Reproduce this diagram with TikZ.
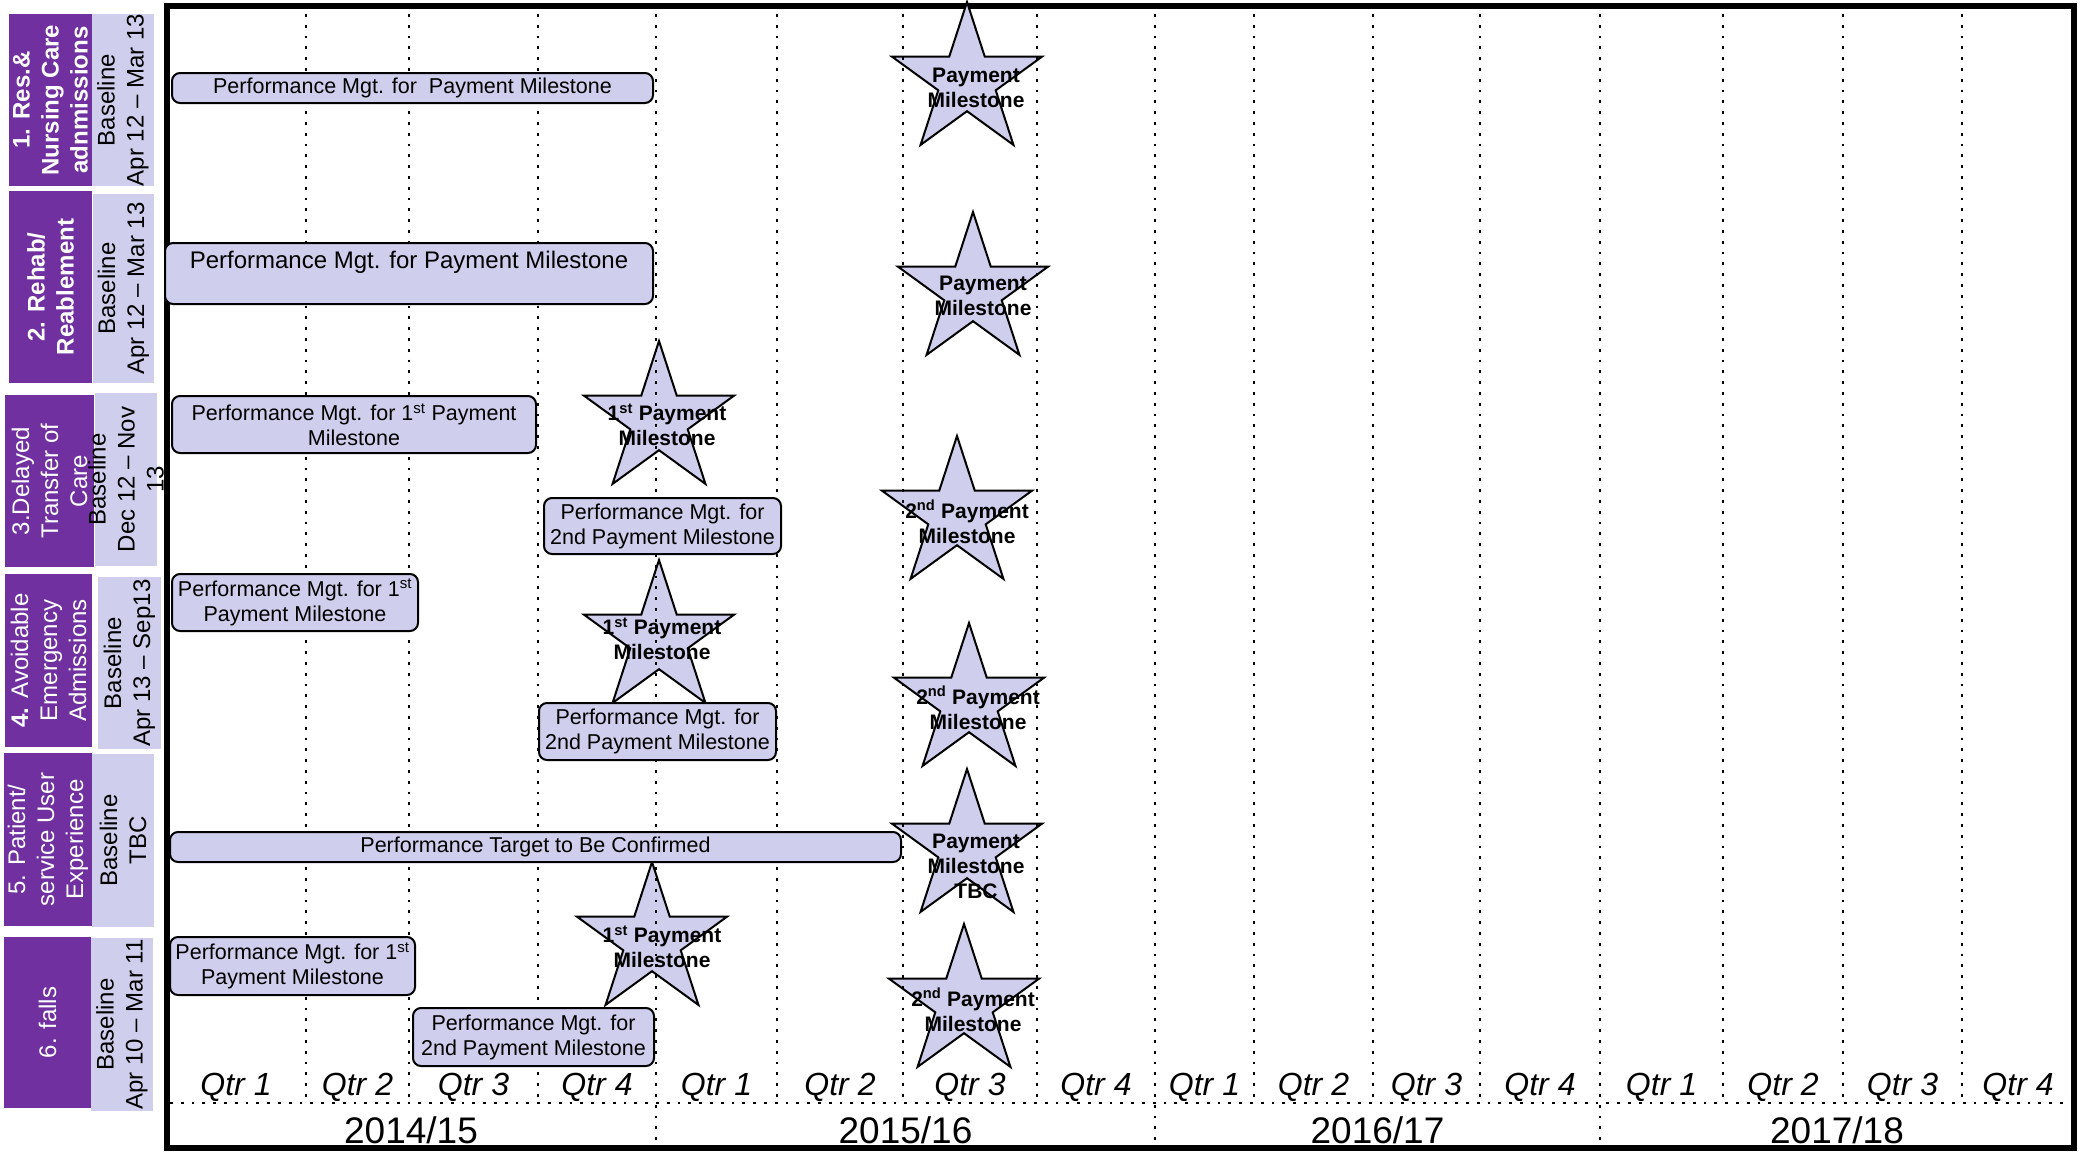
\documentclass[tikz,border=0pt]{standalone}
\usepackage{fontspec}
\setmainfont{Liberation Sans}
\usetikzlibrary{shapes.geometric}
\definecolor{plum}{RGB}{112,48,160}
\definecolor{lav}{RGB}{207,207,237}
\begin{document}
\begin{tikzpicture}[x=1pt,y=-1pt,
 frame/.style={draw=black, line width=6pt},
 dotv/.style={line width=2.8pt, dash pattern=on 2.8pt off 8pt},
 bar/.style={draw=black, line width=2pt, fill=lav, rounded corners=8pt, inner sep=0pt, align=center, font=\fontsize{21.5}{25}\selectfont},
 mstar/.style={star, star points=5, star point ratio=2.618, minimum size=158pt, inner sep=0pt, draw=black, line width=2pt, fill=lav},
 stext/.style={inner sep=0pt, align=center, font=\bfseries\fontsize{21}{25}\selectfont},
 pbox/.style={fill=plum, inner sep=0pt},
 lbox/.style={fill=lav, inner sep=0pt},
 ptext/.style={rotate=90, text=white, align=center, inner sep=0pt, font=\fontsize{24}{29}\selectfont},
 ltext/.style={rotate=90, align=center, inner sep=0pt, font=\fontsize{24}{29}\selectfont},
 qtext/.style={anchor=base, inner sep=0pt, font=\itshape\fontsize{32}{32}\selectfont},
 ytext/.style={anchor=base, inner sep=0pt, font=\fontsize{37}{37}\selectfont}]

\useasboundingbox (0,0) rectangle (2085,1151);

% frame
\draw[frame] (167,5.5) rectangle (2074,1148);

% stars
\node[mstar] (s1) at (967,81) {};
\node[mstar] (s2) at (973,291) {};
\node[mstar] (s3) at (659,420) {};
\node[mstar] (s4) at (957,515) {};
\node[mstar] (s5) at (659,639) {};
\node[mstar] (s6) at (969,702) {};
\node[mstar] (s7) at (967,848) {};
\node[mstar] (s8) at (652,941) {};
\node[mstar] (s9) at (964,1003) {};

% grid lines
\foreach \x in {306,409,538,777,903,1037,1254,1373,1480,1723,1843,1962}
  \draw[dotv] (\x,14) -- (\x,1103);
\foreach \x in {656,1155,1600}
  \draw[dotv] (\x,14) -- (\x,1145);
\draw[dotv] (170,1103) -- (2071,1103);

% bars
\node[bar, minimum width=481, minimum height=30] (b1) at (412.5,88) {Performance Mgt. for\ \ Payment Milestone};
\node[bar, minimum width=488, minimum height=61] (b2) at (409,273.5) {};
\node[inner sep=0pt, font=\fontsize{24}{28}\selectfont] (b2t) at (409,262) {Performance Mgt. for Payment Milestone};
\node[bar, minimum width=364, minimum height=57] (b3) at (354,424.5) {Performance Mgt. for 1\textsuperscript{st} Payment\\Milestone};
\node[bar, minimum width=237, minimum height=56] (b4) at (662.5,526) {Performance Mgt. for\\2nd Payment Milestone};
\node[bar, minimum width=246, minimum height=57] (b5) at (295,602.5) {Performance Mgt. for 1\textsuperscript{st}\\Payment Milestone};
\node[bar, minimum width=237, minimum height=57] (b6) at (657.5,731.5) {Performance Mgt. for\\2nd Payment Milestone};
\node[bar, minimum width=731, minimum height=30] (b7) at (535.5,847) {Performance Target to Be Confirmed};
\node[bar, minimum width=245, minimum height=58] (b8) at (292.5,966) {Performance Mgt. for 1\textsuperscript{st}\\Payment Milestone};
\node[bar, minimum width=241, minimum height=58] (b9) at (533.5,1037) {Performance Mgt. for\\2nd Payment Milestone};

% star texts
\node[stext] (s1t) at (976,88) {Payment\\Milestone};
\node[stext] (s2t) at (983,296) {Payment\\Milestone};
\node[stext] (s3t) at (667,425) {1\textsuperscript{st} Payment\\Milestone};
\node[stext] (s4t) at (967,522) {2\textsuperscript{nd} Payment\\Milestone};
\node[stext] (s5t) at (662,639) {1\textsuperscript{st} Payment\\Milestone};
\node[stext] (s6t) at (978,708) {2\textsuperscript{nd} Payment\\Milestone};
\node[stext] (s7t) at (976,866) {Payment\\Milestone\\TBC};
\node[stext] (s8t) at (662,947) {1\textsuperscript{st} Payment\\Milestone};
\node[stext] (s9t) at (973,1010) {2\textsuperscript{nd} Payment\\Milestone};

% left labels
\node[pbox, minimum width=83, minimum height=172] (p1) at (50.5,100) {};
\node[lbox, minimum width=62, minimum height=172] (l1) at (123,100) {};
\node[pbox, minimum width=83, minimum height=192] (p2) at (50.5,287) {};
\node[lbox, minimum width=61, minimum height=189] (l2) at (123.5,288.5) {};
\node[pbox, minimum width=89, minimum height=172] (p3) at (49.5,481) {};
\node[lbox, minimum width=62, minimum height=173] (l3) at (126,479.5) {};
\node[pbox, minimum width=87, minimum height=173] (p4) at (48.5,660.5) {};
\node[lbox, minimum width=63, minimum height=172] (l4) at (129.5,663) {};
\node[pbox, minimum width=88, minimum height=173] (p5) at (48,839.5) {};
\node[lbox, minimum width=62, minimum height=173] (l5) at (123,840.5) {};
\node[pbox, minimum width=87, minimum height=171] (p6) at (47.5,1022.5) {};
\node[lbox, minimum width=62, minimum height=173] (l6) at (122,1024.5) {};

\node[ptext, font=\bfseries\fontsize{24}{29}\selectfont] (p1t) at (p1.center) {1. Res.\&\\Nursing Care\\adnmissions};
\node[ltext] (l1t) at (l1.center) {Baseline\\Apr 12 – Mar 13};
\node[ptext, font=\bfseries\fontsize{24}{29}\selectfont] (p2t) at (p2.center) {2. Rehab/\\Reablement};
\node[ltext] (l2t) at (l2.center) {Baseline\\Apr 12 – Mar 13};
\node[ptext] (p3t) at (p3.center) {3.Delayed\\Transfer of\\Care};
\node[ltext] (l3t) at (l3.center) {Baseline\\Dec 12 – Nov\\13};
\node[ptext] (p4t) at (p4.center) {\textbf{4.} Avoidable\\Emergency\\Admissions};
\node[ltext] (l4t) at (l4.center) {Baseline\\Apr 13 – Sep13};
\node[ptext] (p5t) at (p5.center) {5. Patient/\\service User\\Experience};
\node[ltext] (l5t) at (l5.center) {Baseline\\TBC};
\node[ptext] (p6t) at (p6.center) {6. falls};
\node[ltext] (l6t) at (l6.center) {Baseline\\Apr 10 – Mar 11};

% quarter labels
\foreach \x [count=\i] in {236,357.5,473.5,597,716.5,840,970,1096,1204.5,1313.5,1426.5,1540,1661.5,1783,1902.5,2018}{
  \pgfmathtruncatemacro{\q}{mod(\i-1,4)+1}
  \node[qtext] (q\i) at (\x,1095) {Qtr \q};
}
% year labels
\node[ytext] (y1) at (411,1143) {2014/15};
\node[ytext] (y2) at (905.5,1143) {2015/16};
\node[ytext] (y3) at (1377.5,1143) {2016/17};
\node[ytext] (y4) at (1837,1143) {2017/18};
\end{tikzpicture}
\end{document}
